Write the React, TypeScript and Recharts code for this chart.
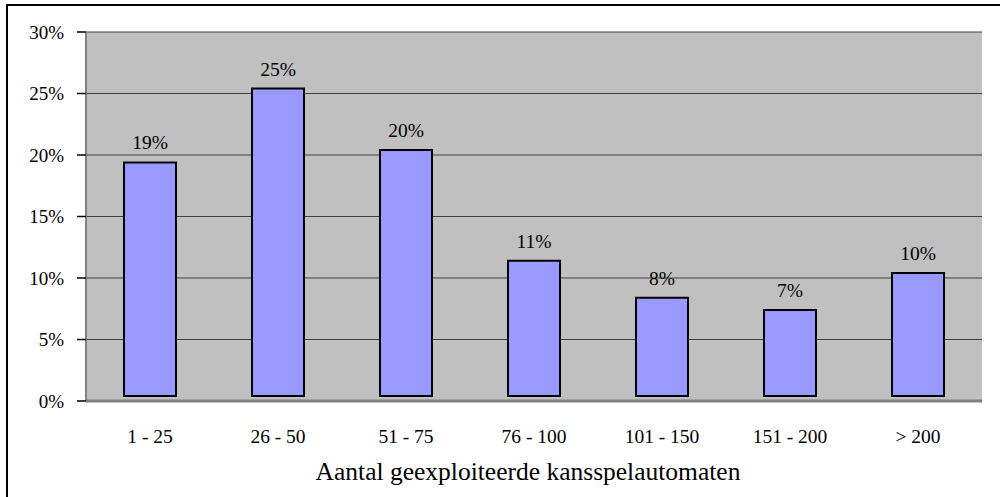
import React from 'react';
import { ComposedChart, Bar, Line, XAxis, YAxis, CartesianGrid, LabelList } from 'recharts';

const categories = ['1 - 25', '26 - 50', '51 - 75', '76 - 100', '101 - 150', '151 - 200', '> 200'];
const shares = [19, 25, 20, 11, 8, 7, 10];
const yTicks = [0, 5, 10, 15, 20, 25, 30];

const data = categories.map((c, i) => ({ name: c, value: shares[i] }));

const FONT = '"Liberation Serif", "Times New Roman", serif';

export default function App() {
  return (
    <div style={{ position: 'absolute', left: 0, top: 0, width: 1000, height: 497, overflow: 'hidden', background: '#fff' }}>
      <div style={{ position: 'absolute', left: 6, top: 4, width: 1010, height: 510, border: '2px solid #000', boxSizing: 'border-box' }} />
      <div style={{ position: 'absolute', left: 0, top: 0 }}>
        <ComposedChart
          width={1000}
          height={497}
          data={data}
          margin={{ top: 32, right: 18, bottom: 6, left: 0 }}
          barCategoryGap={0}
        >
          <CartesianGrid yAxisId="grid" vertical={false} horizontal={true} fill="#C0C0C0" stroke="#404040" strokeWidth={1} fillOpacity={1} />
          <XAxis
            dataKey="name"
            height={90}
            tickLine={false}
            axisLine={{ stroke: '#808080', strokeWidth: 3 }}
            tick={{ fill: '#000', fontSize: 19.5, fontFamily: FONT }}
            tickMargin={22}
            label={{ value: 'Aantal geexploiteerde kansspelautomaten', position: 'insideBottom', offset: 11, dx: -6, fill: '#000', fontSize: 25.5, fontFamily: FONT }}
          />
          <YAxis
            yAxisId="grid"
            orientation="left"
            width={86}
            type="number"
            domain={[0, 30]}
            ticks={yTicks}
            interval={0}
            tickFormatter={(v: number) => `${v}%`}
            tick={{ fill: '#000', fontSize: 19, fontFamily: FONT }}
            tickSize={9}
            tickMargin={13}
            tickLine={{ stroke: '#000', strokeWidth: 1.5 }}
            axisLine={{ stroke: '#808080', strokeWidth: 2 }}
          />
          <YAxis yAxisId="bars" orientation="right" width={0} hide type="number" domain={[-0.4, 29.6]} allowDataOverflow />
          <Line yAxisId="grid" dataKey="value" stroke="none" dot={false} activeDot={false} legendType="none" isAnimationActive={false} />
          <Bar yAxisId="bars" dataKey="value" fill="#9999FF" stroke="#000" strokeWidth={2} barSize={52} isAnimationActive={false}>
            <LabelList
              dataKey="value"
              position="top"
              offset={13}
              formatter={(v: number) => `${v}%`}
              style={{ fill: '#000', fontSize: 19.5, fontFamily: FONT }}
            />
          </Bar>
        </ComposedChart>
      </div>
    </div>
  );
}
